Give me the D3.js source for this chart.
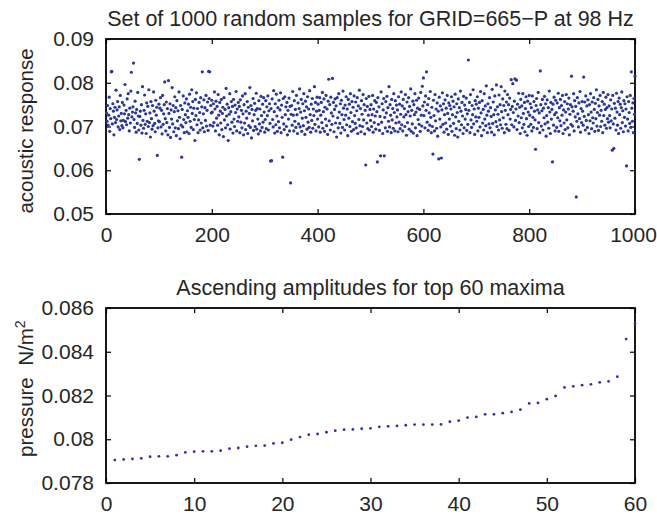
<!DOCTYPE html>
<html>
<head>
<meta charset="utf-8">
<script src="https://cdn.jsdelivr.net/npm/d3@7.9.0/dist/d3.min.js"></script>
<style>
  body { margin: 0; background: #fff; }
  svg { display: block; }
  text { font-family: "Liberation Sans", Arial, Helvetica, sans-serif; fill: #262626; }
</style>
</head>
<body>
<svg id="chart" width="657" height="514"></svg>
<script>
// top panel: 1000 samples, values in units of 1e-4
const sampleValues = [
  731,712,748,703,726,767,689,741,718,825, 826,706,752,735,681,721,744,709,783,716,
  738,757,699,724,745,693,771,713,730,702, 755,697,714,749,729,796,711,737,704,763,
  719,775,727,690,742,708,781,824,722,733,
  745,845,716,698,758,731,687,739,707,778, 724,692,625,723,735,703,750,685,791,714,
  696,737,772,705,729,684,754,712,746,700, 784,709,731,676,757,718,694,748,702,779,
  735,707,688,760,726,744,634,697,713,751,
  711,742,766,699,737,683,771,705,729,750, 802,718,690,756,709,741,681,805,730,698,
  752,675,738,717,789,706,748,688,734,768, 697,743,679,759,713,736,695,779,721,672,
  748,703,630,739,699,770,716,686,754,727,
  709,763,688,736,721,751,684,774,712,744, 698,784,730,757,693,742,716,668,762,725,
  777,704,741,686,715,755,732,692,766,708, 745,825,697,729,761,688,743,714,771,701,
  737,756,691,826,764,825,703,748,731,760,
  733,701,752,709,779,740,690,758,719,746, 703,773,726,681,755,735,708,762,693,730,
  744,677,766,715,739,697,787,724,751,704, 668,743,728,775,694,734,757,710,746,685,
  762,717,700,749,732,780,690,740,712,755,
  722,746,686,761,710,737,697,770,729,681, 750,708,775,693,735,719,757,684,744,702,
  730,789,698,748,674,739,713,764,691,727, 753,700,737,776,694,741,717,683,759,706,
  740,690,769,725,698,751,710,766,733,687,
  716,759,695,745,725,770,692,736,752,707, 621,741,622,763,716,699,782,734,685,752,
  704,774,724,689,743,711,760,697,738,777, 686,749,721,630,764,706,693,768,727,745,
  700,755,681,737,717,765,690,746,571,728,
  748,703,780,726,690,759,712,739,698,771, 727,684,754,706,741,786,699,733,762,689,
  719,752,702,775,736,682,758,721,745,694, 768,710,740,698,782,727,687,751,714,764,
  696,740,725,791,705,755,690,735,767,717,
  751,699,737,766,687,726,755,709,778,696, 734,763,689,744,717,771,702,740,682,758,
  808,713,750,692,767,731,705,810,724,755, 688,739,763,708,747,676,766,720,697,775,
  733,707,752,685,760,727,698,781,742,716,
  692,749,726,768,704,740,679,762,719,751, 700,775,732,689,757,711,744,693,770,725,
  707,756,697,736,766,684,747,716,783,702, 741,688,759,728,700,773,715,750,683,737,
  612,764,708,746,695,726,769,692,739,714,
  750,700,727,771,687,740,709,759,724,694, 755,734,619,766,705,745,691,723,633,779,
  710,752,684,738,764,633,721,697,757,731, 769,689,743,712,791,699,750,726,686,762,
  715,741,696,775,732,690,759,708,749,722,
  738,688,768,710,751,695,728,779,704,747, 690,762,722,741,700,773,727,680,756,709,
  734,766,694,746,724,786,689,737,706,758, 685,750,727,775,697,733,760,679,742,716,
  765,705,739,689,778,726,701,792,747,811,
  725,756,697,770,737,825,710,750,691,764, 731,703,780,721,686,744,700,637,760,725,
  690,773,713,740,696,754,678,735,626,767, 717,747,699,628,738,777,705,752,687,727,
  761,708,742,694,771,730,682,754,717,748,
  701,740,768,689,727,758,707,745,680,774, 722,695,752,732,676,763,712,743,692,781,
  735,704,755,724,684,769,697,749,717,739, 765,691,729,705,852,737,755,686,773,715,
  698,748,727,784,706,740,682,759,722,751,
  712,768,690,742,721,755,699,780,731,679, 759,708,739,692,775,717,747,702,793,726,
  686,752,735,706,766,697,743,723,687,785, 707,756,727,681,770,738,711,795,700,745,
  728,692,772,715,750,704,791,734,696,763,
  720,748,686,781,737,705,756,695,773,727, 750,691,765,717,739,807,704,746,798,732,
  699,758,809,714,740,806,693,751,724,776, 709,744,684,762,720,747,697,775,730,705,
  755,688,741,768,718,680,758,733,700,771,
  726,752,705,743,690,770,721,698,757,735, 715,648,748,764,695,738,778,709,731,686,
  827,750,701,736,762,692,742,720,769,706, 752,678,725,761,710,743,696,781,733,684,
  755,717,739,619,751,703,767,727,690,760,
  732,698,754,720,776,689,743,713,762,702, 748,726,771,684,738,708,757,693,733,773,
  715,752,697,740,765,681,728,750,705,815, 745,701,735,775,690,759,722,746,539,712,
  766,729,699,754,718,780,687,741,709,757,
  735,703,813,723,756,692,770,714,747,698, 761,727,684,750,713,775,733,695,756,720,
  708,766,739,689,753,718,784,701,732,762, 691,747,726,771,700,737,712,757,686,778,
  725,751,703,739,767,696,743,718,773,710,
  747,725,697,761,713,740,646,771,706,650, 753,719,742,692,776,733,703,757,684,765,
  727,751,696,743,779,709,736,688,759,721, 752,701,740,610,768,717,690,757,732,707,
  771,698,825,742,712,754,686,764,728,815
];

// bottom panel: 60 largest maxima, ascending
const maximaValues = [
  0.07905,0.07908,0.07910,0.07913,0.07920,0.07922,0.07922,0.07927,0.07940,0.07943,
  0.07945,0.07945,0.07948,0.07957,0.07960,0.07966,0.07970,0.07971,0.07981,0.07984,
  0.07998,0.08010,0.08021,0.08024,0.08032,0.08039,0.08044,0.08045,0.08048,0.08050,
  0.08057,0.08059,0.08061,0.08064,0.08067,0.08067,0.08067,0.08068,0.08080,0.08085,
  0.08099,0.08102,0.08114,0.08114,0.08119,0.08125,0.08135,0.08164,0.08166,0.08183,
  0.08198,0.08237,0.08242,0.08247,0.08251,0.08260,0.08265,0.08286,0.08458,0.08528
];

const topXTicks = [0, 200, 400, 600, 800, 1000];
const topYTicks = [0.05, 0.06, 0.07, 0.08, 0.09];
const botXTicks = [0, 10, 20, 30, 40, 50, 60];
const botYTicks = [0.078, 0.08, 0.082, 0.084, 0.086];

const topTitle = "Set of 1000 random samples for GRID=665\u2212P at 98 Hz";
const botTitle = "Ascending amplitudes for top 60 maxima";

const dotColor = "#2b3796";
const svg = d3.select("#chart");

const left = 106, right = 635;
const fmt = d => String(+d.toFixed(3));

function drawPanel(opt) {
  const x = d3.scaleLinear().domain(opt.xDomain).range([left, right]);
  const y = d3.scaleLinear().domain(opt.yDomain).range([opt.bottom, opt.top]);
  const g = svg.append("g");

  const styleAxis = (sel, hideText) => {
    sel.select(".domain").remove();
    sel.selectAll(".tick line").attr("stroke", "#000").attr("stroke-width", 1.2);
    sel.selectAll(".tick text")
      .style("font-family", "'Liberation Sans', Arial, sans-serif")
      .style("font-size", opt.tickFont + "px")
      .attr("fill", "#262626");
    if (hideText) sel.selectAll(".tick text").remove();
  };

  const xAxisG = g.append("g").attr("transform", `translate(0,${opt.bottom})`)
    .call(d3.axisBottom(x).tickValues(opt.xTicks).tickFormat(fmt).tickSizeInner(-5).tickSizeOuter(0).tickPadding(opt.xPad))
    .call(s => styleAxis(s, false));
  // keep the last label inside the window
  xAxisG.selectAll(".tick text").filter(d => d === 1000).attr("dx", -2);

  g.append("g").attr("transform", `translate(0,${opt.top})`)
    .call(d3.axisTop(x).tickValues(opt.xTicks).tickSizeInner(-5).tickSizeOuter(0))
    .call(s => styleAxis(s, true));
  g.append("g").attr("transform", `translate(${left},0)`)
    .call(d3.axisLeft(y).tickValues(opt.yTicks).tickFormat(fmt).tickSizeInner(-5).tickSizeOuter(0).tickPadding(12))
    .call(s => styleAxis(s, false));
  g.append("g").attr("transform", `translate(${right},0)`)
    .call(d3.axisRight(y).tickValues(opt.yTicks).tickSizeInner(-5).tickSizeOuter(0))
    .call(s => styleAxis(s, true));

  g.append("rect")
    .attr("x", left).attr("y", opt.top)
    .attr("width", right - left).attr("height", opt.bottom - opt.top)
    .attr("fill", "none").attr("stroke", "#000").attr("stroke-width", 1.8);

  // dots drawn over the frame, like the original
  g.append("g").selectAll("circle")
    .data(opt.data)
    .join("circle")
    .attr("cx", (d, i) => x(i + 1))
    .attr("cy", d => y(d))
    .attr("r", opt.r)
    .attr("fill", dotColor);

  g.append("text")
    .attr("x", (left + right) / 2)
    .attr("y", opt.titleY)
    .attr("text-anchor", "middle")
    .style("font-size", opt.titleFont + "px")
    .text(opt.title);

  return g;
}

const topG = drawPanel({
  data: sampleValues.map(v => v / 10000),
  xDomain: [0, 1000], yDomain: [0.05, 0.09],
  xTicks: topXTicks, yTicks: topYTicks,
  top: 39, bottom: 214, xPad: 13, r: 1.6,
  tickFont: 21, titleFont: 21.5, titleY: 26, title: topTitle
});

topG.append("text")
  .attr("transform", "rotate(-90)")
  .attr("x", -131)
  .attr("y", 33)
  .attr("text-anchor", "middle")
  .style("font-size", "20.5px")
  .text("acoustic response");

const botG = drawPanel({
  data: maximaValues,
  xDomain: [0, 60], yDomain: [0.078, 0.086],
  xTicks: botXTicks, yTicks: botYTicks,
  top: 308, bottom: 483, xPad: 13, r: 1.4,
  tickFont: 21, titleFont: 21.5, titleY: 295, title: botTitle
});

const yl = botG.append("text")
  .attr("transform", "rotate(-90)")
  .attr("x", -457)
  .attr("y", 33)
  .attr("text-anchor", "start")
  .style("font-size", "20.5px");
yl.append("tspan").text("pressure\u00a0\u00a0N/m");
yl.append("tspan").attr("dy", -8).style("font-size", "14px").text("2");
</script>
</body>
</html>
